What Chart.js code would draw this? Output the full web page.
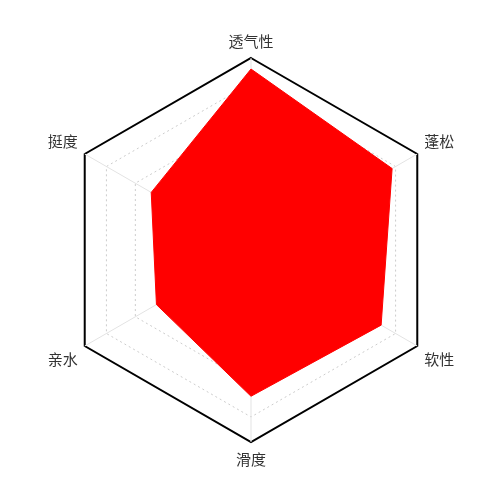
<!DOCTYPE html>
<html>
<head>
<meta charset="utf-8">
<script src="https://cdn.jsdelivr.net/npm/chart.js@4.4.0/dist/chart.umd.min.js"></script>
<style>
html,body{margin:0;padding:0;background:#fff;}
#wrap{width:500px;height:498px;position:relative;}
</style>
</head>
<body>
<div id="wrap"><canvas id="c"></canvas></div>
<script>
const categories = ['透气性', '蓬松', '软性', '滑度', '亲水', '挺度'];
const values = [5.42, 4.88, 4.5, 4.38, 3.27, 3.45];
const scaleMax = 5.75;

new Chart(document.getElementById('c'), {
  type: 'radar',
  data: {
    labels: categories,
    datasets: [{
      data: values,
      backgroundColor: '#ff0000',
      borderColor: '#ff0000',
      borderWidth: 1,
      pointRadius: 0,
      fill: true
    }]
  },
  options: {
    responsive: true,
    maintainAspectRatio: false,
    animation: false,
    layout: { padding: { top: 32, bottom: 29, left: 32, right: 29 } },
    plugins: { legend: { display: false }, tooltip: { enabled: false } },
    scales: {
      r: {
        min: 0,
        max: scaleMax,
        ticks: { display: false, stepSize: 1 },
        angleLines: { color: '#e3e3e3', lineWidth: 1 },
        grid: {
          color: ctx => (ctx.tick && ctx.tick.value === scaleMax) ? '#000000' : '#cccccc',
          lineWidth: ctx => (ctx.tick && ctx.tick.value === scaleMax) ? 2 : 1
        },
        border: {
          dash: ctx => (ctx.tick && ctx.tick.value === scaleMax) ? [] : [2, 3]
        },
        pointLabels: {
          color: '#333333',
          padding: 8,
          font: { family: "'Noto Sans CJK SC', 'Noto Sans', sans-serif", size: 15 }
        }
      }
    }
  }
});
</script>
</body>
</html>
